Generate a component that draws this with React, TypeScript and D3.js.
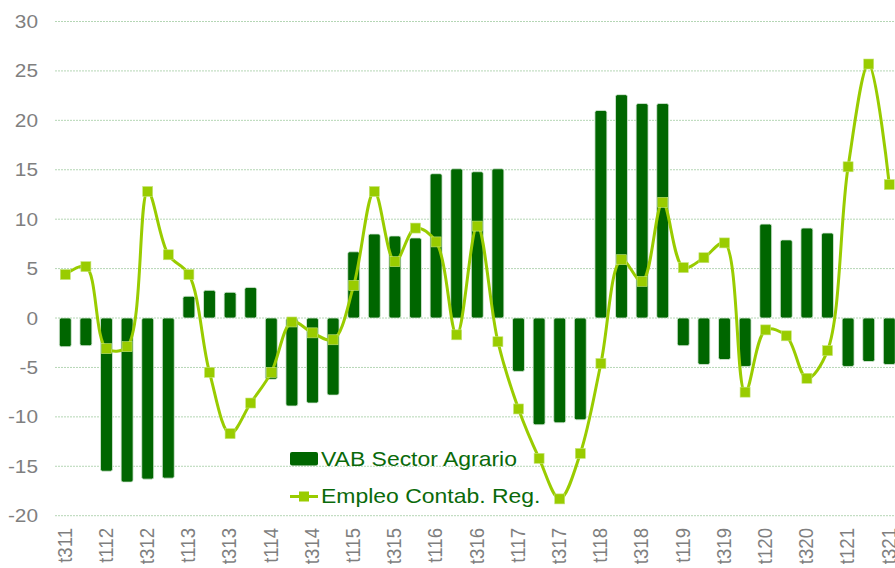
import React from 'react';
import * as d3 from 'd3';

// quarters (tQYY), label shown every second one
const quarters = [
  't311', 't411', 't112', 't212', 't312', 't412', 't113', 't213', 't313', 't413',
  't114', 't214', 't314', 't414', 't115', 't215', 't315', 't415', 't116', 't216',
  't316', 't416', 't117', 't217', 't317', 't417', 't118', 't218', 't318', 't418',
  't119', 't219', 't319', 't419', 't120', 't220', 't320', 't420', 't121', 't221',
  't321',
];

const vabAgrario = [
  -2.9, -2.8, -15.5, -16.6, -16.3, -16.2, 2.2, 2.8, 2.6, 3.1,
  -6.2, -8.9, -8.6, -7.8, 6.7, 8.5, 8.3, 8.1, 14.6, 15.1,
  14.8, 15.1, -5.4, -10.8, -10.6, -10.3, 21.0, 22.6, 21.7, 21.7,
  -2.8, -4.7, -4.2, -4.9, 9.5, 7.9, 9.1, 8.6, -4.9, -4.4,
  -4.7,
];

const empleoContab = [
  4.4, 5.2, -3.1, -2.9, 12.8, 6.4, 4.4, -5.5, -11.7, -8.6,
  -5.5, -0.4, -1.5, -2.2, 3.3, 12.8, 5.7, 9.1, 7.7, -1.7,
  9.3, -2.4, -9.2, -14.2, -18.3, -13.7, -4.6, 5.9, 3.7, 11.7,
  5.1, 6.1, 7.6, -7.5, -1.2, -1.8, -6.1, -3.3, 15.3, 25.7,
  13.5,
];

const yTicks = [-20, -15, -10, -5, 0, 5, 10, 15, 20, 25, 30];

const W = 895;
const H = 568;
const left = 55;
const step = 20.6;
const font = '"Liberation Sans", Arial, sans-serif';
const stretch = 1.12;

const barColor = '#006600';
const lineColor = '#99cc00';

export default function App() {
  const x = d3.scaleBand<string>()
    .domain(quarters)
    .range([left, left + quarters.length * step])
    .paddingInner(0.42)
    .paddingOuter(0.21);
  const y = d3.scaleLinear().domain([-20, 30]).range([515.7, 21.5]);
  const cx = (q: string) => (x(q) ?? 0) + x.bandwidth() / 2;

  const line = d3.line<number>()
    .x((_, i) => cx(quarters[i]))
    .y(d => y(d))
    .curve(d3.curveCatmullRom.alpha(0.5));

  return (
    <svg width={W} height={H} style={{ position: 'absolute', left: 0, top: 0, background: '#fff' }}
      fontFamily={font}>
      {/* grid */}
      {yTicks.map(t => (
        <line key={'g' + t} x1={left} x2={W} y1={y(t)} y2={y(t)}
          stroke="#b5d6b5" strokeWidth={1} strokeDasharray="2,1" />
      ))}
      {yTicks.map(t => (
        <text key={'yt' + t} transform={`translate(38,${y(t)}) scale(${stretch},1)`}
          textAnchor="end" dy="0.35em" fontSize={18.6} fill="#7f7f7f">{t}</text>
      ))}

      {/* bars */}
      {vabAgrario.map((v, i) => (
        <rect key={'b' + i} x={x(quarters[i])} width={x.bandwidth()}
          y={Math.min(y(v), y(0))} height={Math.abs(y(v) - y(0))}
          rx={2} fill={barColor} stroke="#d9ead9" strokeWidth={0.8} />
      ))}

      {/* line */}
      <path d={line(empleoContab) ?? ''} fill="none" stroke={lineColor} strokeWidth={3} />
      {empleoContab.map((v, i) => (
        <rect key={'m' + i} x={cx(quarters[i]) - 5} y={y(v) - 5} width={10} height={10}
          fill={lineColor} stroke="#c6e47a" strokeWidth={0.6} />
      ))}

      {/* x labels */}
      {quarters.map((q, i) => i % 2 === 0 && (
        <text key={'xl' + q} transform={`translate(${cx(q) - 1},528) scale(${stretch},1) rotate(-90)`}
          textAnchor="end" dy="0.35em" fontSize={18.6} fill="#7f7f7f">{q}</text>
      ))}

      {/* legend */}
      <g>
        <rect x={290} y={452} width={28} height={13.5} rx={2} fill={barColor} />
        <text transform={`translate(321,465.5) scale(${stretch},1)`} fontSize={20.5} fill="#0a6a0a">
          VAB Sector Agrario
        </text>
        <line x1={290} x2={318} y1={496.5} y2={496.5} stroke={lineColor} strokeWidth={3} />
        <rect x={299} y={491.5} width={10} height={10} fill={lineColor} />
        <text transform={`translate(321,503) scale(${stretch},1)`} fontSize={20.5} fill="#0a6a0a">
          Empleo Contab. Reg.
        </text>
      </g>
    </svg>
  );
}
